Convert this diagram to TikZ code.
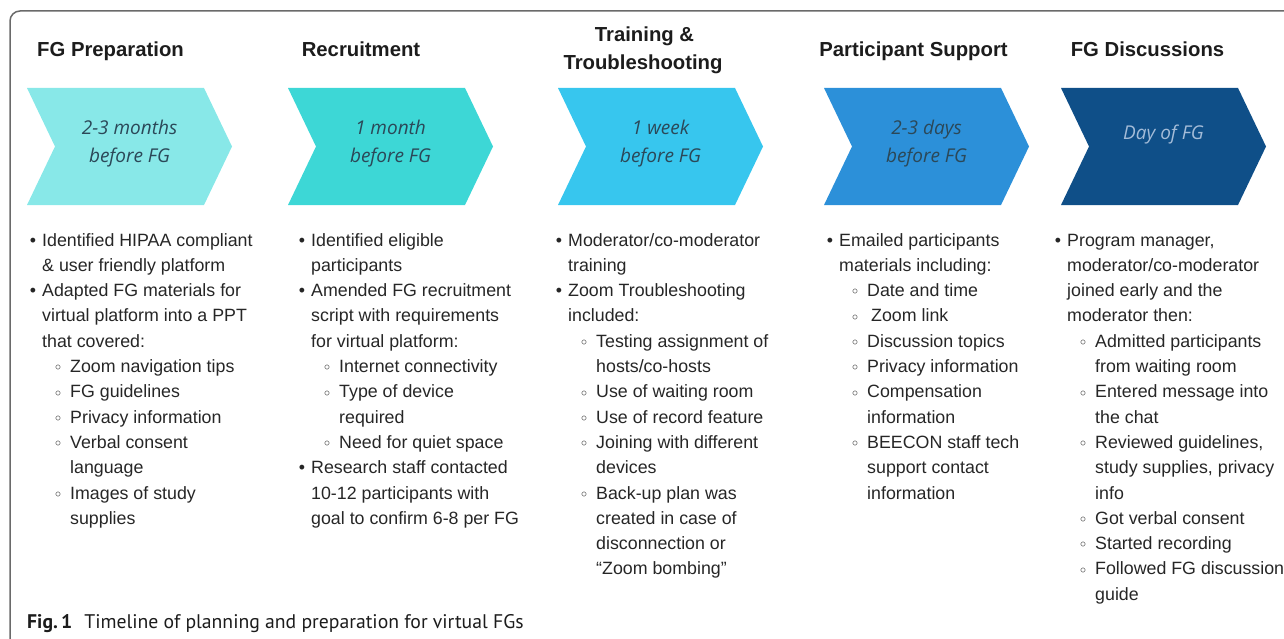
\documentclass[tikz,border=0pt]{standalone}
\usepackage{fontspec}
\setmainfont{Liberation Sans}
\newfontfamily\durfont{Open Sans}
\newfontfamily\capfont{PT Sans}

\definecolor{framecol}{HTML}{6A6A6A}
\definecolor{headcol}{HTML}{1C1C1C}
\definecolor{bodycol}{HTML}{262626}
\definecolor{chevA}{HTML}{88E8E8}
\definecolor{chevB}{HTML}{3DD7D6}
\definecolor{chevC}{HTML}{37C6EE}
\definecolor{chevD}{HTML}{2C90D9}
\definecolor{chevE}{HTML}{0F4F88}
\definecolor{durdark}{HTML}{2B4858}
\definecolor{durlight}{HTML}{A4BCD8}

% list lines: main bullet, its continuation, sub bullet, its continuation
\newcommand\bitem[1]{\leavevmode\llap{\textbullet\hspace{6pt}}#1\par}
\newcommand\bcont[1]{\leavevmode#1\par}
\newcommand\sitem[1]{\leavevmode\hspace*{28pt}\llap{\raisebox{1.8pt}{\fontsize{12.5}{12.5}\selectfont$\circ$}\hspace{9pt}}#1\par}
\newcommand\scont[1]{\leavevmode\hspace*{28pt}#1\par}
\newcommand\colbox[1]{\parbox[t]{250pt}{\fontsize{17.8}{25.3}\selectfont\raggedright #1}}
\newcommand\durbox[1]{\parbox[t]{200pt}{\centering\durfont\itshape\fontsize{19}{28}\selectfont #1}}
% chevron: left x, colour
\newcommand\chevron[2]{\fill[#2] (#1,88) -- ++(177,0) -- ++(28,58.5) -- ++(-28,58.5) -- ++(-177,0) -- ++(28,-58.5) -- cycle;}

\tikzset{
  head/.style={font=\fontsize{20.3}{28}\selectfont\bfseries, text=headcol, inner sep=0, anchor=base},
  dur/.style={inner sep=0, anchor=base, text=#1},
  body/.style={inner sep=0, anchor=base west, text=bodycol},
}

\begin{document}
\begin{tikzpicture}[x=1pt,y=-1pt]
\useasboundingbox (0,0) rectangle (1284,639);

% frame
\draw[framecol, line width=1.5pt, rounded corners=10pt] (10,640) -- (10,11) -- (1285,11);

% headings
\node[head] (h1) at (110.5,57) {FG Preparation};
\node[head] (h2) at (361,57) {Recruitment};
\node[head] (h3a) at (644.5,42) {Training \&};
\node[head] (h3b) at (643,70) {Troubleshooting};
\node[head] (h4) at (913.5,57) {Participant Support};
\node[head] (h5) at (1147.5,57) {FG Discussions};

% chevrons
\chevron{27}{chevA}
\chevron{288}{chevB}
\chevron{558}{chevC}
\chevron{824}{chevD}
\chevron{1061}{chevE}

\node[dur=durdark] (d1) at (129.5,135) {\durbox{2-3 months\\before FG}};
\node[dur=durdark] (d2) at (390.5,135) {\durbox{1 month\\before FG}};
\node[dur=durdark] (d3) at (660.5,135) {\durbox{1 week\\before FG}};
\node[dur=durdark] (d4) at (926.5,135) {\durbox{2-3 days\\before FG}};
\node[dur=durlight] (d5) at (1163.5,139.5) {\durbox{Day of FG}};

% task lists
\node[body] (b1) at (42,246) {\colbox{%
\bitem{Identified HIPAA compliant}
\bcont{\& user friendly platform}
\bitem{Adapted FG materials for}
\bcont{virtual platform into a PPT}
\bcont{that covered:}
\sitem{Zoom navigation tips}
\sitem{FG guidelines}
\sitem{Privacy information}
\sitem{Verbal consent}
\scont{language}
\sitem{Images of study}
\scont{supplies}}};

\node[body] (b2) at (311,246) {\colbox{%
\bitem{Identified eligible}
\bcont{participants}
\bitem{Amended FG recruitment}
\bcont{script with requirements}
\bcont{for virtual platform:}
\sitem{Internet connectivity}
\sitem{Type of device}
\scont{required}
\sitem{Need for quiet space}
\bitem{Research staff contacted}
\bcont{10-12 participants with}
\bcont{goal to confirm 6-8 per FG}}};

\node[body] (b3) at (568,246) {\colbox{%
\bitem{Moderator/co-moderator}
\bcont{training}
\bitem{Zoom Troubleshooting}
\bcont{included:}
\sitem{Testing assignment of}
\scont{hosts/co-hosts}
\sitem{Use of waiting room}
\sitem{Use of record feature}
\sitem{Joining with different}
\scont{devices}
\sitem{Back-up plan was}
\scont{created in case of}
\scont{disconnection or}
\scont{“Zoom bombing”}}};

\node[body] (b4) at (839,246) {\colbox{%
\bitem{Emailed participants}
\bcont{materials including:}
\sitem{Date and time}
\sitem{\hspace*{4pt}Zoom link}
\sitem{Discussion topics}
\sitem{Privacy information}
\sitem{Compensation}
\scont{information}
\sitem{BEECON staff tech}
\scont{support contact}
\scont{information}}};

\node[body] (b5) at (1067,246) {\colbox{%
\bitem{Program manager,}
\bcont{moderator/co-moderator}
\bcont{joined early and the}
\bcont{moderator then:}
\sitem{Admitted participants}
\scont{from waiting room}
\sitem{Entered message into}
\scont{the chat}
\sitem{Reviewed guidelines,}
\scont{study supplies, privacy}
\scont{info}
\sitem{Got verbal consent}
\sitem{Started recording}
\sitem{Followed FG discussion}
\scont{guide}}};

% caption
\node[inner sep=0, anchor=base west, text=headcol] (cap) at (27,628)
  {\capfont\fontsize{19.7}{22}\selectfont\textbf{Fig.\,1}\hspace{12pt}Timeline of planning and preparation for virtual FGs};
\end{tikzpicture}
\end{document}
